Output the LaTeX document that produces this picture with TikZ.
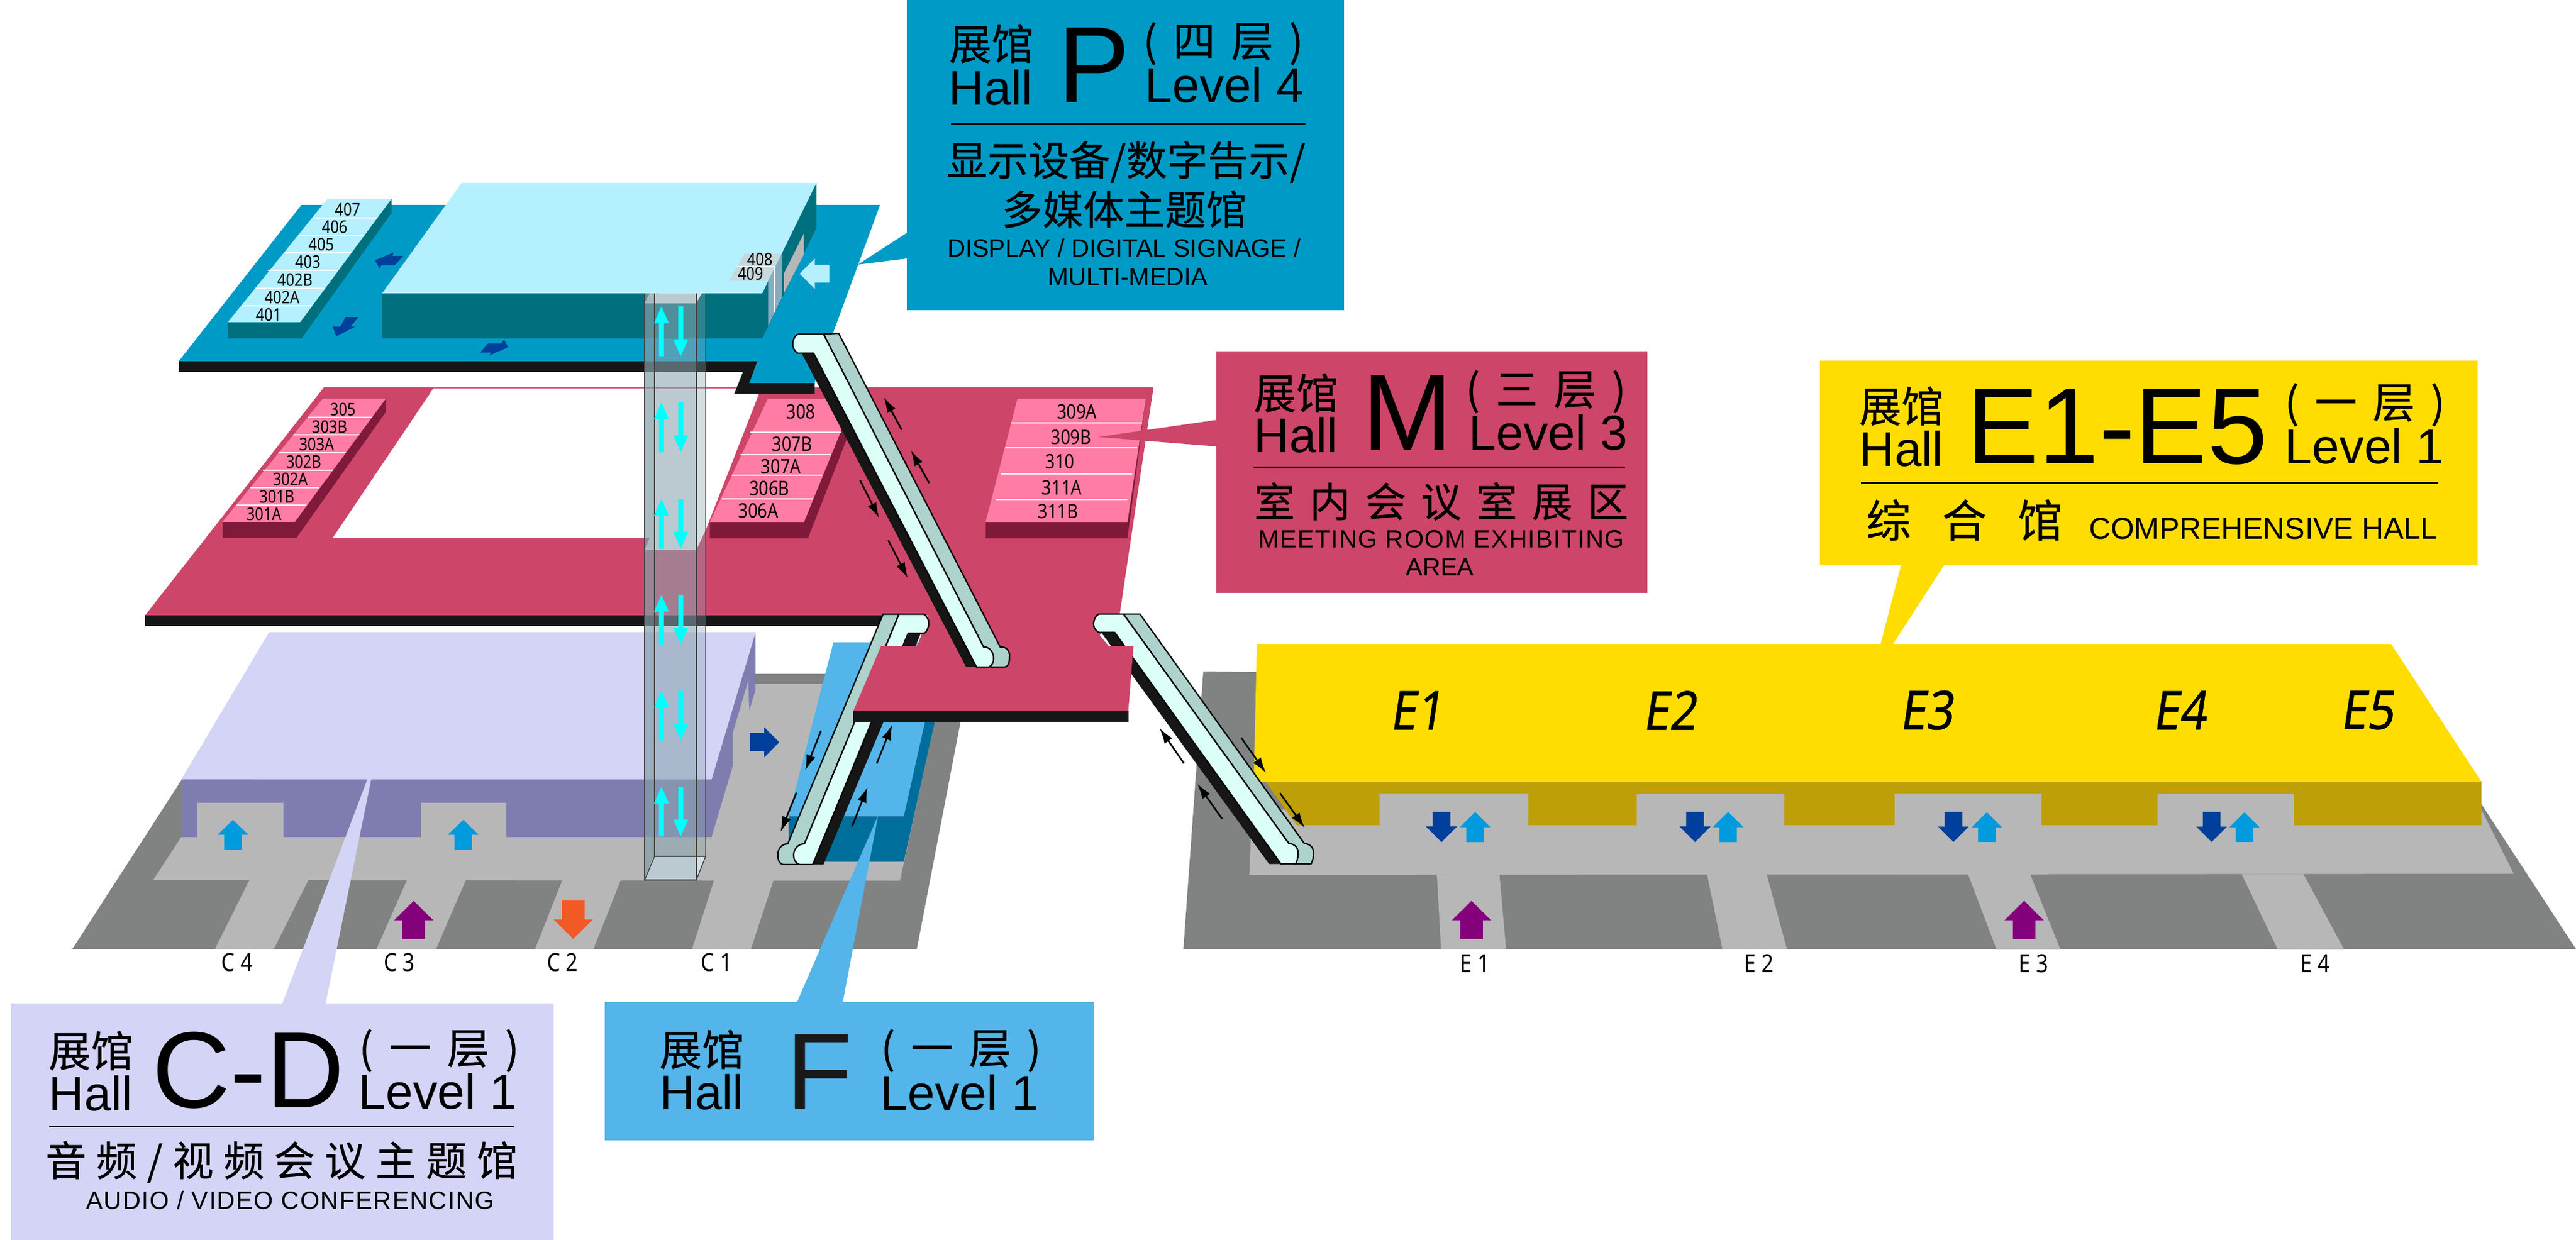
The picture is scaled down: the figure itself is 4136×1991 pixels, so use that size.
\documentclass[tikz,border=0pt]{standalone}
\usepackage{fontspec}
\setmainfont{Liberation Sans}
\newfontfamily\cjk[FakeBold=0.35]{Noto Sans CJK SC}
\newfontfamily\roomf[FakeStretch=0.85]{Noto Sans}
\newfontfamily\bigit[FakeStretch=0.88,FakeSlant=0.15,FakeBold=0.6]{Noto Sans}
\usetikzlibrary{arrows.meta}
\definecolor{pblue}{HTML}{009AC6}
\definecolor{pteal}{HTML}{00707E}
\definecolor{blk}{HTML}{161616}
\definecolor{plight}{HTML}{B5F0FF}
\definecolor{mmag}{HTML}{CD4569}
\definecolor{mpink}{HTML}{FF7DA5}
\definecolor{mdark}{HTML}{7F1A3A}
\definecolor{lav}{HTML}{D4D4F6}
\definecolor{purp}{HTML}{7F7DB0}
\definecolor{fgray}{HTML}{808381}
\definecolor{lgray}{HTML}{B7B7B7}
\definecolor{fblue}{HTML}{53B5E9}
\definecolor{fdark}{HTML}{006E9B}
\definecolor{yel}{HTML}{FFDD00}
\definecolor{gold}{HTML}{BF9F07}
\definecolor{escL}{HTML}{DCFFF7}
\definecolor{escG}{HTML}{ADD3CC}
\definecolor{navy}{HTML}{003F9B}
\definecolor{sky}{HTML}{009ADE}
\definecolor{violet}{HTML}{85007B}
\definecolor{orng}{HTML}{F15A24}
\definecolor{aqua}{HTML}{00FFFF}
\definecolor{lblgray}{HTML}{C7D9DD}
\definecolor{nichebl}{HTML}{85ADBD}
\definecolor{shaftA}{RGB}{138,165,175}
\definecolor{shaftB}{RGB}{132,158,168}
\definecolor{shaftC}{RGB}{135,166,177}
\newcommand\vbar[7]{\fill[#1] (#2,#3) -- (#2+#5,#4) -- (#2+#6,#4) -- (#2+#6,#7) -- (#2-#6,#7) -- (#2-#6,#4) -- (#2-#5,#4) -- cycle;}
\newcommand\lv[1]{(\kern.37em#1\kern.37em层\kern.37em)}
\tikzset{
 zA/.style={shift={(50pt,-62.5pt)},x=0.20725pt,y=-0.103625pt},
 zB/.style={shift={(250pt,-125pt)},x=0.1595pt,y=-0.1595pt},
 zC/.style={shift={(50pt,-237.5pt)},x=0.20725pt,y=-0.103625pt},
 zD/.style={shift={(437.5pt,-237.5pt)},x=0.20725pt,y=-0.103625pt},
 zE/.style={shift={(290pt,-90pt)},x=0.08333pt,y=-0.08333pt},
 zF/.style={shift={(725pt,-250pt)},x=0.19700pt,y=-0.09885pt},
 rm/.style={inner sep=0pt,font=\roomf\fontsize{7pt}{8pt}\selectfont},
 rmb/.style={inner sep=0pt,font=\roomf\fontsize{8pt}{9pt}\selectfont},
 gate/.style={inner sep=0pt,font=\roomf\fontsize{10pt}{11pt}\selectfont},
 eit/.style={inner sep=0pt,font=\bigit\fontsize{21.5pt}{23pt}\selectfont},
 cj/.style={inner sep=0pt,font=\cjk\fontsize{17pt}{18pt}\selectfont},
 cjl/.style={inner sep=0pt,font=\cjk\fontsize{16.4pt}{18pt}\selectfont},
 hallf/.style={inner sep=0pt,anchor=base,font=\fontsize{19.5pt}{20pt}\selectfont},
 levf/.style={inner sep=0pt,anchor=base,font=\fontsize{19.7pt}{20pt}\selectfont},
 bigf/.style={inner sep=0pt,anchor=base,font=\fontsize{43.5pt}{46pt}\selectfont},
 eng/.style={inner sep=0pt,font=\fontsize{10pt}{11pt}\selectfont},
 rulel/.style={line width=.6pt,black},
 divw/.style={line width=.5pt,white},
 esc/.style={line width=.55pt,draw=black,line join=round},
 smarrow/.style={line width=.65pt,black,-{Latex[length=6.2pt,width=3.8pt]}},
 shaftline/.style={line width=.35pt,draw=black!75},
}
\begin{document}
\begin{tikzpicture}[x=0.25pt,y=-0.25pt]
\useasboundingbox (0,0) rectangle (4136,1991);
\fill[white] (0,0) rectangle (4136,1991);
% ---------- left ground floor
\fill[fgray] (291,1253) -- (600,1082) -- (1557,1082) -- (1472,1524) -- (116,1524) -- cycle;
\fill[lgray] (246,1413) -- (291,1344) -- (600,1098) -- (1514,1098) -- (1445,1414) -- cycle;
\begin{scope}[zC]
\fill[lgray] (242,1117) -- (356,1117) -- (289,1385) -- (175,1385) -- cycle;
\fill[lgray] (547,1117) -- (661,1117) -- (603,1385) -- (488,1385) -- cycle;
\fill[lgray] (848,1117) -- (961,1117) -- (908,1385) -- (795,1385) -- cycle;
\fill[lgray] (1142,1117) -- (1257,1117) -- (1213,1385) -- (1099,1385) -- cycle;
% C-D hall
\fill[purp] (1222,157) -- (1222,380) -- (1137,950) -- (110,950) -- (110,727) -- (1137,727) -- cycle;
\fill[lav] (280,157) -- (1222,157) -- (1137,727) -- (110,727) -- cycle;
\fill[lgray] (1208,345) -- (1210,470) -- (1178,675) -- (1178,548) -- cycle;
\fill[lgray] (141,819) rectangle (308,950);
\fill[lgray] (574,819) rectangle (739,950);
\vbar{sky}{210}{884}{942}{30}{17}{999}
\vbar{sky}{656}{884}{942}{30}{17}{999}
\vbar{violet}{560}{1198}{1273}{38}{22}{1345}
\vbar{orng}{869}{1345}{1270}{38}{22}{1197}
\fill[navy] (1211,548) -- (1239,548) -- (1239,525) -- (1268,583) -- (1239,642) -- (1239,618) -- (1211,618) -- cycle;
\node[gate] (gc4) at (218,1437) {C 4};
\node[gate] (gc3) at (532,1437) {C 3};
\node[gate] (gc2) at (848,1437) {C 2};
\node[gate] (gc1) at (1147,1437) {C 1};
\end{scope}
% F hall
\begin{scope}[zB]
\fill[fdark] (417,1270) -- (707,1270) -- (760,1033) -- (785,1033) -- (707,1385) -- (417,1385) -- cycle;
\fill[fblue] (530,833) -- (805,833) -- (707,1270) -- (417,1270) -- cycle;
\end{scope}
% ---------- right ground floor
\fill[fgray] (1900,1524) -- (4136,1524) -- (3984,1291) -- (3984,1255) -- (3850,1100) -- (1932,1078) -- cycle;
\fill[lgray] (2006,1405) -- (2010,1300) -- (3984,1300) -- (4036,1403) -- cycle;
\begin{scope}[zD]
\fill[lgray] (672,1097) -- (793,1093) -- (806,1385) -- (680,1385) -- cycle;
\fill[lgray] (1195,1093) -- (1310,1090) -- (1350,1385) -- (1225,1385) -- cycle;
\end{scope}
\fill[yel] (2018,1034) -- (3839,1034) -- (3984,1255) -- (2013,1255) -- cycle;
\fill[gold] (2032,1255) -- (3984,1255) -- (3984,1325) -- (2082,1325) -- cycle;
\fill[lgray] (2215,1274) rectangle (2454,1326);
\fill[lgray] (2628,1275) rectangle (2865,1326);
\fill[lgray] (3042,1274) rectangle (3278,1326);
\fill[lgray] (3464,1275) rectangle (3683,1326);
\begin{scope}[zD]
\vbar{navy}{681}{970}{910}{30}{17}{853}
\vbar{sky}{746}{853}{913}{30}{17}{970}
\vbar{navy}{1172}{970}{910}{30}{17}{853}
\vbar{sky}{1236}{853}{913}{30}{17}{970}
\vbar{violet}{739}{1198}{1273}{38}{22}{1345}
\node[gate] (ge1) at (746,1440) {E 1};
\node[gate] (ge2) at (1296,1440) {E 2};
\node[eit] (ye1) at (632,460) {E1};
\node[eit] (ye2) at (1122,460) {E2};
\end{scope}
\begin{scope}[zF]
\fill[lgray] (329,1017) -- (456,1020) -- (518,1327) -- (388,1327) -- cycle;
\fill[lgray] (887,1020) -- (1013,1020) -- (1096,1327) -- (961,1327) -- cycle;
\vbar{navy}{300}{890}{828}{31}{18}{768}
\vbar{sky}{368}{769}{831}{31}{18}{890}
\vbar{navy}{826}{890}{828}{31}{18}{768}
\vbar{sky}{893}{769}{831}{31}{18}{890}
\vbar{violet}{444}{1129}{1208}{40}{23}{1285}
\node[gate] (ge3) at (463,1385) {E 3};
\node[gate] (ge4) at (1037,1385) {E 4};
\node[eit] (ye3) at (244,355) {E3};
\node[eit] (ye4) at (760,355) {E4};
\node[eit] (ye5) at (1142,355) {E5};
\end{scope}
% callout pointers at ground level
\fill[lav] (590,1251) -- (596,1251) -- (521,1620) -- (450,1620) -- cycle;
\fill[fblue] (1410,1309) -- (1351,1620) -- (1275,1620) -- cycle;
% ---------- level 3
\fill[mmag] (520,622) -- (1852,622) -- (1797.5,988) -- (1765.6,1020) -- (1781.5,1039) -- (1472,1039) -- (1491,988) -- (233,988) -- cycle;
\fill[blk] (233,988) rectangle (1425,1005);
\fill[white] (696,623.5) -- (1222,623.5) -- (1133,851) -- (1118,883) -- (1035,883) -- (1043,864) -- (534,864) -- cycle;
\begin{scope}[zA]
\fill[mdark] (506,941) -- (506,993) -- (333,1480) -- (190,1480) -- (190,1418) -- (330,1418) -- cycle;
\fill[mpink] (384,941) -- (506,941) -- (330,1418) -- (190,1418) -- cycle;
\foreach \ya/\xa/\xb in {1014/355/480,1082/327/455,1150/298/428,1218/268/403,1285/242/378,1353/217/352}
  \draw[divw] (\xa,\ya) -- (\xb,\ya);
\foreach \lab/\xa/\ya in {305/423/982,303B/397/1050,303A/372/1117,302B/347/1185,302A/321/1253,301B/295/1321,301A/270/1388}
  \node[rm] (r\lab) at (\xa,\ya) {\lab};
\end{scope}
\begin{scope}[zB]
\fill[mdark] (582,220) -- (595,240) -- (466,571) -- (219,571) -- (219,530) -- (456,530) -- cycle;
\fill[mpink] (365,220) -- (582,220) -- (456,530) -- (219,530) -- cycle;
\foreach \ya/\xa/\xb in {304/320/548,360/296/524,412/274/502,471/249/478}
  \draw[divw] (\xa,\ya) -- (\xb,\ya);
\foreach \lab/\xa/\ya in {308/448/253,307B/426/334,307A/398/390,306B/369/445,306A/341/502}
  \node[rmb] (r\lab) at (\xa,\ya) {\lab};
\fill[mdark] (1316,220) -- (1270,571) -- (913,571) -- (913,530) -- (1270,530) -- cycle;
\fill[mpink] (993,220) -- (1306,220) -- (1316,220) -- (1270,530) -- (913,530) -- cycle;
\foreach \ya/\xa/\xb in {280/977/1307,344/963/1295,409/951/1282,473/939/1270}
  \draw[divw] (\xa,\ya) -- (\xb,\ya);
\foreach \lab/\xa/\ya in {309A/1143/253,309B/1128/317,310/1100/378,311A/1105/443,311B/1095/503}
  \node[rmb] (r\lab) at (\xa,\ya) {\lab};
\fill[mmag] (1197,316) -- (1495,273) -- (1495,340) -- cycle;
\end{scope}
% ---------- level 4
\fill[pblue] (484,329) -- (1413,329) -- (1308,615) -- (1203,615) -- (1216,580) -- (287,580) -- cycle;
\fill[blk] (287,580) -- (287,597) -- (1193,597) -- (1179,632) -- (1308,632) -- (1308,615) -- (1203,615) -- (1216,580) -- cycle;
\fill[pblue] (1456,374) -- (1456,415) -- (1360,427) -- (1360,436) -- cycle;
\begin{scope}[zA]
\fill[pteal] (1340,105) -- (1340,280) -- (1235,708) -- (499,708) -- (499,533) -- (1235,533) -- cycle;
\fill[plight] (653,105) -- (1340,105) -- (1235,533) -- (499,533) -- cycle;
\fill[pteal] (517,167) -- (517,222) -- (343,708) -- (200,708) -- (200,645) -- (340,645) -- cycle;
\fill[plight] (393,167) -- (517,167) -- (340,645) -- (200,645) -- cycle;
\foreach \ya/\xa/\xb in {241/365/490,308/338/465,377/310/438,445/278/413,513/253/388,581/227/363}
  \draw[divw] (\xa,\ya) -- (\xb,\ya);
\foreach \lab/\xa/\ya in {407/432/208,406/407/276,405/381/344,403/355/411,402B/330/481,402A/305/549,401/279/616}
  \node[rm] (r\lab) at (\xa,\ya) {\lab};
\fill[navy] (540,388) -- (523,425) -- (497,425) -- (494,437) -- (485,405) -- (521,375) -- (519,388) -- cycle;
\fill[navy] (453,625) -- (438,662) -- (447,662) -- (410,700) -- (403,662) -- (418,662) -- (428,625) -- cycle;
\fill[navy] (689,762) -- (704,727) -- (730,727) -- (735,712) -- (743,742) -- (707,773) -- (710,762) -- cycle;
\end{scope}
\begin{scope}[zE]
\fill[nichebl] (285,142) -- (285,355) -- (220,490) -- (220,272) -- cycle;
\fill[lgray] (392,45) -- (392,145) -- (297,330) -- (297,235) -- cycle;
\fill[plight] (515,195) -- (445,195) -- (445,165) -- (372,238) -- (445,312) -- (445,281) -- (515,281) -- cycle;
\fill[lblgray] (105,142) -- (285,142) -- (220,272) -- (33,272) -- cycle;
\draw[white,line width=.4pt] (70,203) -- (252,203) -- (252,422);
\node[rm] (r408) at (180,168) {408};
\node[rm] (r409) at (135,238) {409};
\end{scope}
% ---------- glass shaft
\begin{scope}[zA]
\fill[white] (1017,533) -- (1118,533) -- (1107,572) -- (1007,572) -- cycle;
\end{scope}
\begin{scope}[zC]
\fill[white] (1024,1025) -- (1125,1025) -- (1107,1117) -- (1007,1117) -- cycle;
\end{scope}
\fill[shaftA,opacity=.58] (1051,471) -- (1118,471) -- (1118,1413) -- (1035,1413) -- (1051,1375) -- cycle;
\fill[shaftB,opacity=.7] (1035,471) -- (1051,471) -- (1051,1375) -- (1035,1413) -- cycle;
\fill[shaftC,opacity=.35] (1118,471) -- (1133,471) -- (1133,1375) -- (1118,1413) -- cycle;
\draw[shaftline] (1035,471) -- (1035,1413) -- (1118,1413) -- (1118,471);
\draw[shaftline] (1051,471) -- (1051,1375) -- (1133,1375);
\draw[shaftline] (1133,471) -- (1133,1375) -- (1118,1413);
\draw[shaftline] (1051,1375) -- (1035,1413);
\foreach \ya in {492,646,801,955,1109,1263}{
  \vbar{aqua}{1062}{\ya}{\ya+27}{12}{4}{\ya+80}
  \vbar{aqua}{1093}{\ya+80}{\ya+53}{12}{4}{\ya}
}
% ---------- escalators under the mezzanine
\begin{scope}[zB]
\fill[blk] (720,810) -- (750,810) -- (505,1392) -- (478,1392) -- cycle;
\filldraw[esc,fill=escG] (655,762) -- (695,762) -- (457,1340) -- (440,1392) -- (405,1392) .. controls (394,1392) and (389,1378) .. (390,1365) .. controls (391,1352) and (400,1340) .. (415,1340) -- cycle;
\filldraw[esc,fill=escL] (695,762) -- (758,762) .. controls (766,768) and (771,778) .. (770,786) .. controls (769,798) and (764,808) .. (758,810) -- (718,810) -- (478,1392) -- (445,1392) .. controls (434,1390) and (429,1378) .. (430,1365) .. controls (431,1352) and (442,1340) .. (457,1340) -- cycle;
\end{scope}
\begin{scope}[zD]
\fill[blk] (22,158) -- (48,158) -- (370,1055) -- (347,1055) -- cycle;
\filldraw[esc,fill=escG] (65,87) -- (97,87) -- (415,975) .. controls (428,978) and (434,995) .. (433,1015) .. controls (433,1035) and (430,1050) .. (428,1055) -- (397,1055) -- (385,975) -- cycle;
\filldraw[esc,fill=escL] (17,87) -- (65,87) -- (385,975) .. controls (398,978) and (404,995) .. (403,1015) .. controls (403,1035) and (400,1050) .. (398,1055) -- (370,1055) -- (48,158) -- (17,158) .. controls (10,150) and (6,135) .. (7,122) .. controls (8,105) and (12,92) .. (17,87) -- cycle;
\end{scope}
% mezzanine platform
\begin{scope}[zB]
\fill[blk] (580,1005) rectangle (1272,1033);
\fill[mmag] (650,842) -- (1285,842) -- (1272,1006) -- (580,1006) -- cycle;
% long escalator P to M
\fill[blk] (450,105) -- (480,105) -- (890,895) -- (864,895) -- cycle;
\filldraw[esc,fill=escG] (505,57) -- (543,55) -- (950,845) -- (958,845) .. controls (968,847) and (975,858) .. (973,870) .. controls (973,885) and (970,895) .. (960,895) -- (925,895) -- (908,845) -- cycle;
\filldraw[esc,fill=escL] (443,57) -- (505,57) -- (908,845) -- (915,845) .. controls (925,848) and (933,860) .. (933,872) .. controls (933,885) and (928,893) .. (920,895) -- (890,895) -- (480,105) -- (440,105) .. controls (432,100) and (426,90) .. (428,78) .. controls (430,65) and (436,58) .. (443,57) -- cycle;
% small direction arrows
\draw[smarrow] (702,298) -- (657,216);
\draw[smarrow] (771,432) -- (725,350);
\draw[smarrow] (597,425) -- (645,520);
\draw[smarrow] (668,576) -- (717,671);
\draw[smarrow] (499,1055) -- (459,1155);
\draw[smarrow] (437,1211) -- (397,1310);
\draw[smarrow] (639,1138) -- (678,1040);
\draw[smarrow] (577,1296) -- (616,1197);
\end{scope}
\begin{scope}[zD]
\draw[smarrow] (182,665) -- (135,529);
\draw[smarrow] (256,880) -- (208,744);
\draw[smarrow] (293,566) -- (341,702);
\draw[smarrow] (368,780) -- (416,915);
\end{scope}
% ---------- panels
\fill[pblue] (1456,0) rectangle (2158,498);
\fill[mmag] (1953,564) rectangle (2645,952);
\fill[yel] (2922,579) rectangle (3978,907);
\fill[yel] (3053,905) -- (3123,905) -- (3038,1036) -- (3019,1036) -- cycle;
\fill[lav] (18,1611) rectangle (889,1991);
\fill[fblue] (971,1609) rectangle (1756,1831);
% P panel
\node[cj] (p1) at (1592,70) {展馆};
\node[hallf] (p2) at (1591,168) {Hall};
\node[bigf] (p3) at (1757,165) {P};
\node[cj] (p4) at (1964,70) {\lv{四}};
\node[levf] (p5) at (1966,165) {Level 4};
\draw[rulel] (1527,198.5) -- (2096,198.5);
\node[cjl] (p6) at (1808,260) {显示设备/数字告示/};
\node[cjl] (p7) at (1805,336) {多媒体主题馆};
\node[eng] (p8) at (1805,398) {DISPLAY / DIGITAL SIGNAGE /};
\node[eng] (p9) at (1811,445) {MULTI-MEDIA};
% M panel
\node[cj] (m1) at (2081,631) {展馆};
\node[hallf] (m2) at (2081,726) {Hall};
\node[bigf] (m3) at (2260,722) {M};
\node[cj] (m4) at (2482,629) {\lv{三}};
\node[levf] (m5) at (2486,722) {Level 3};
\draw[rulel] (2013,750) -- (2609,750);
\node[cjl] (m6) at (2314,805) {\addfontfeature{LetterSpace=36}室内会议室展区};
\node[eng] (m7) at (2314,866) {\addfontfeature{LetterSpace=4}MEETING ROOM EXHIBITING};
\node[eng] (m8) at (2312,911) {AREA};
% E panel
\node[cj] (e1) at (3053,652) {展馆};
\node[hallf] (e2) at (3053,748) {Hall};
\node[bigf] (e3) at (3399,744) {E1-E5};
\node[cj] (e4) at (3797,650) {\lv{一}};
\node[levf] (e5) at (3796,744) {Level 1};
\draw[rulel] (2988,775.5) -- (3915,775.5);
\node[inner sep=0pt,font=\cjk\fontsize{18pt}{20pt}\selectfont] (e6) at (3154,835) {\addfontfeature{LetterSpace=69}综合馆};
\node[inner sep=0pt,font=\fontsize{12.1pt}{13pt}\selectfont] (e7) at (3634,849) {COMPREHENSIVE HALL};
% C-D panel
\node[cj] (c1) at (146,1687) {展馆};
\node[hallf] (c2) at (146,1783) {Hall};
\node[bigf] (c3) at (399,1778) {C-D};
\node[cj] (c4) at (705,1687) {\lv{一}};
\node[levf] (c5) at (703,1780) {Level 1};
\draw[rulel] (79,1809) -- (825,1809);
\node[cjl] (c6) at (452,1866) {\addfontfeature{LetterSpace=24}音频/视频会议主题馆};
\node[eng] (c7) at (466,1927) {\addfontfeature{LetterSpace=4}AUDIO / VIDEO CONFERENCING};
% F panel
\node[cj] (f1) at (1127,1685) {展馆};
\node[hallf] (f2) at (1127,1781) {Hall};
\node[bigf,text=black!90] (f3) at (1316,1780) {F};
\node[cj] (f4) at (1543,1687) {\lv{一}};
\node[levf] (f5) at (1541,1782) {Level 1};
\end{tikzpicture}
\end{document}
